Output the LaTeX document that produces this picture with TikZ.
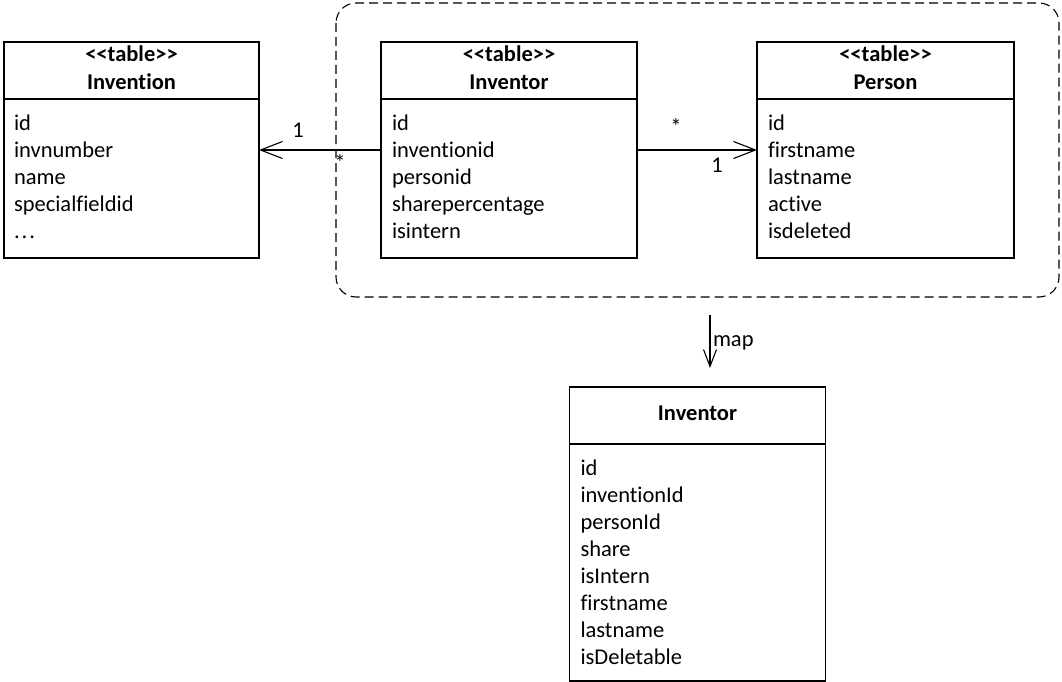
\documentclass[tikz,border=0pt]{standalone}
\usepackage{fontspec}
\setmainfont{Carlito}[Ligatures=NoCommon]
\usetikzlibrary{arrows.meta}
\newcommand{\stereo}{<\kern0pt<table>\kern0pt>}
\begin{document}
\begin{tikzpicture}[x=1pt,y=-1pt,
  every node/.style={inner sep=0pt, outer sep=0pt, font=\fontsize{22.5}{27}\selectfont},
  tablebox/.style={draw, line width=1.2pt, anchor=north west, minimum width=#1, minimum height=216pt},
  cell/.style={anchor=base west},
  head/.style={anchor=base, font=\fontsize{22.5}{27}\selectfont\bfseries},
  assoc/.style={line width=1.1pt, -{Straight Barb[length=22pt,width=17pt,line width=1.1pt]}},
  multiplicity/.style={anchor=base},
  mapline/.style={line width=1.1pt, -{Straight Barb[length=17pt,width=13pt,line width=1.1pt]}},
  group/.style={draw, line width=1.1pt, dash pattern=on 9pt off 5pt, rounded corners=20pt}
]
\useasboundingbox (0,0) rectangle (1062,682);

% grouping frame round the two joined tables
\draw[group] (336,3) rectangle (1059,297);

% table: Invention
\node[tablebox=255pt] (invention) at (4,42) {};
\draw[line width=1.2pt] (4,99) -- (259,99);
\node[head] (invention-st) at (131.5,61.5) {\stereo};
\node[head] (invention-nm) at (131.5,90) {Invention};
\node[cell] (invention-1) at (14,130.5) {id};
\node[cell] (invention-2) at (14,157.5) {invnumber};
\node[cell] (invention-3) at (14,184.5) {name};
\node[cell] (invention-4) at (14,211.5) {specialfieldid};
\node[cell] (invention-5) at (14,238.5) {.\kern2pt.\kern2pt.};

% table: Inventor
\node[tablebox=256pt] (inventor) at (381,42) {};
\draw[line width=1.2pt] (381,99) -- (637,99);
\node[head] (inventor-st) at (509,61.5) {\stereo};
\node[head] (inventor-nm) at (509,90) {Inventor};
\foreach \t [count=\i] in {id,inventionid,personid,sharepercentage,isintern}
  \node[cell] (inventor-\i) at (392,{130.5+27*(\i-1)}) {\t};

% table: Person
\node[tablebox=257pt] (person) at (757,42) {};
\draw[line width=1.2pt] (757,99) -- (1014,99);
\node[head] (person-st) at (885.5,61.5) {\stereo};
\node[head] (person-nm) at (885.5,90) {Person};
\foreach \t [count=\i] in {id,firstname,lastname,active,isdeleted}
  \node[cell] (person-\i) at (768,{130.5+27*(\i-1)}) {\t};

% associations
\draw[assoc] (inventor.west |- 0,150) -- (invention.east |- 0,150);
\node[multiplicity] (m1) at (298,137) {1};
\node[multiplicity] (m2) at (340,170) {*};
\draw[assoc] (inventor.east |- 0,150) -- (person.west |- 0,150);
\node[multiplicity] (m3) at (676,135) {*};
\node[multiplicity] (m4) at (717,172.5) {1};

% mapped entity
\node[tablebox=256pt, minimum height=294pt] (entity) at (569.5,387) {};
\draw[line width=1.2pt] (569.5,444) -- (825.5,444);
\node[head] (entity-nm) at (697.5,420.5) {Inventor};
\foreach \t [count=\i] in {id,inventionId,personId,share,isIntern,firstname,lastname,isDeletable}
  \node[cell] (entity-\i) at (580.5,{475+27.1*(\i-1)}) {\t};

% mapping arrow
\coordinate (mapfrom) at (710,315);
\coordinate (mapto) at (710,368);
\draw[mapline] (mapfrom) -- (mapto);
\node[cell] (maplabel) at (713,346.5) {map};
\end{tikzpicture}
\end{document}
